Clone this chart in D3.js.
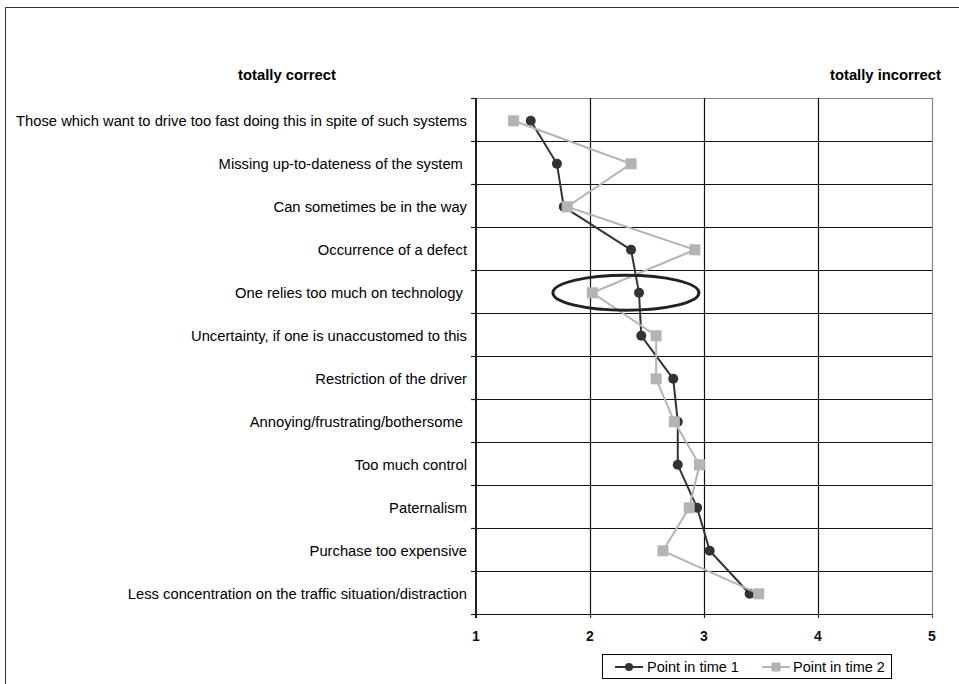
<!DOCTYPE html>
<html>
<head>
<meta charset="utf-8">
<script src="https://cdn.jsdelivr.net/npm/d3@7/dist/d3.min.js"></script>
<style>
  html, body { margin: 0; padding: 0; background: #fff; }
  svg { display: block; font-family: "Liberation Sans", Arial, sans-serif; }
  .cat { white-space: pre; }
</style>
</head>
<body>
<svg id="chart" width="959" height="684"></svg>
<script>
const categories = [
  "Those which want to drive too fast doing this in spite of such systems",
  "Missing up-to-dateness of the system ",
  "Can sometimes be in the way",
  "Occurrence of a defect",
  "One relies too much on technology ",
  "Uncertainty, if one is unaccustomed to this",
  "Restriction of the driver",
  "Annoying/frustrating/bothersome ",
  "Too much control",
  "Paternalism",
  "Purchase too expensive",
  "Less concentration on the traffic situation/distraction"
];
const time1 = [1.48, 1.71, 1.77, 2.36, 2.43, 2.45, 2.73, 2.77, 2.77, 2.94, 3.05, 3.40];
const time2 = [1.33, 2.36, 1.80, 2.92, 2.02, 2.58, 2.58, 2.74, 2.96, 2.87, 2.64, 3.48];
const xTicks = [1, 2, 3, 4, 5];
const seriesNames = ["Point in time 1", "Point in time 2"];
const leftHeader = "totally correct";
const rightHeader = "totally incorrect";

(function () {
const svg = d3.select("#chart");
const pL = 476, pR = 932, pT = 98, pB = 614;

const x = d3.scaleLinear().domain([1, 5]).range([pL, pR]);
const y = d3.scaleBand().domain(categories).range([pT, pB]).padding(0);
const yc = d => y(d) + y.bandwidth() * 0.53;

// outer chart border
svg.append("path")
  .attr("d", "M5.5,684 L5.5,7.5 L959,7.5")
  .attr("fill", "none").attr("stroke", "#333").attr("stroke-width", 1);

// plot frame (top/right gray)
svg.append("path")
  .attr("d", `M${pL},${pT + 0.5} L${pR + 0.5},${pT + 0.5} L${pR + 0.5},${pB}`)
  .attr("fill", "none").attr("stroke", "#888").attr("stroke-width", 1.2);

// horizontal gridlines at band boundaries
const bounds = categories.map(c => y(c)).concat([pB]);
svg.append("g").selectAll("line").data(bounds.slice(1)).join("line")
  .attr("x1", pL).attr("x2", pR)
  .attr("y1", d => d + 0.5).attr("y2", d => d + 0.5)
  .attr("stroke", "#111").attr("stroke-width", 1.2);

// vertical gridlines
svg.append("g").selectAll("line").data(xTicks.slice(1, -1)).join("line")
  .attr("x1", d => x(d) + 0.5).attr("x2", d => x(d) + 0.5)
  .attr("y1", pT).attr("y2", pB)
  .attr("stroke", "#111").attr("stroke-width", 1.2);

// left axis line and ticks
svg.append("line").attr("x1", pL).attr("x2", pL).attr("y1", pT).attr("y2", pB + 4)
  .attr("stroke", "#222").attr("stroke-width", 2);
svg.append("g").selectAll("line").data(bounds).join("line")
  .attr("x1", pL - 5).attr("x2", pL)
  .attr("y1", d => d + 0.5).attr("y2", d => d + 0.5)
  .attr("stroke", "#222").attr("stroke-width", 1.2);

// bottom axis ticks
svg.append("g").selectAll("line").data(xTicks).join("line")
  .attr("x1", d => x(d) + 0.5).attr("x2", d => x(d) + 0.5)
  .attr("y1", pB).attr("y2", pB + 4)
  .attr("stroke", d => d === 5 ? "#555" : "#222").attr("stroke-width", 1.2);

// x tick labels
svg.append("g").selectAll("text").data(xTicks).join("text")
  .attr("x", d => x(d)).attr("y", 641)
  .attr("text-anchor", "middle")
  .attr("font-size", 14).attr("font-weight", "bold").attr("fill", "#111")
  .text(d => d);

// category labels
svg.append("g").selectAll("text").data(categories).join("text")
  .attr("class", "cat")
  .attr("x", 467).attr("y", d => yc(d) + 5.2)
  .attr("text-anchor", "end")
  .attr("font-size", 14.75).attr("fill", "#000")
  .text(d => d);

// headers
svg.append("text").attr("x", 287).attr("y", 80).attr("text-anchor", "middle")
  .attr("font-size", 14.8).attr("font-weight", "bold").text(leftHeader);
svg.append("text").attr("x", 941).attr("y", 80).attr("text-anchor", "end")
  .attr("font-size", 14.8).attr("font-weight", "bold").text(rightHeader);

// series lines
const line = d3.line().x(d => x(d.v)).y(d => yc(d.c));
const s1 = categories.map((c, i) => ({c, v: time1[i]}));
const s2 = categories.map((c, i) => ({c, v: time2[i]}));
const dark = "#333", gray = "#b4b4b4";

svg.append("path").datum(s1).attr("d", line)
  .attr("fill", "none").attr("stroke", dark).attr("stroke-width", 2);
svg.append("g").selectAll("circle").data(s1).join("circle")
  .attr("cx", d => x(d.v)).attr("cy", d => yc(d.c)).attr("r", 5).attr("fill", dark);

svg.append("path").datum(s2).attr("d", line)
  .attr("fill", "none").attr("stroke", gray).attr("stroke-width", 2);
svg.append("g").selectAll("rect").data(s2).join("rect")
  .attr("x", d => x(d.v) - 5.5).attr("y", d => yc(d.c) - 5.5)
  .attr("width", 11).attr("height", 11).attr("fill", gray);

// highlight ellipse around "One relies too much on technology"
const hi = categories[4];
svg.append("ellipse")
  .attr("cx", x((time1[4] + time2[4]) / 2 + 0.09)).attr("cy", yc(hi))
  .attr("rx", 73).attr("ry", 17.5)
  .attr("fill", "none").attr("stroke", "#222").attr("stroke-width", 3);

// legend
const lg = svg.append("g");
lg.append("rect").attr("x", 602.5).attr("y", 654.5).attr("width", 289).attr("height", 24)
  .attr("fill", "#fff").attr("stroke", "#000").attr("stroke-width", 1);
const ly = 667;
lg.append("line").attr("x1", 615).attr("x2", 643).attr("y1", ly).attr("y2", ly)
  .attr("stroke", dark).attr("stroke-width", 2);
lg.append("circle").attr("cx", 629).attr("cy", ly).attr("r", 4).attr("fill", dark);
lg.append("text").attr("x", 647).attr("y", ly + 5).attr("font-size", 14.5).text(seriesNames[0]);
lg.append("line").attr("x1", 762).attr("x2", 790).attr("y1", ly).attr("y2", ly)
  .attr("stroke", gray).attr("stroke-width", 2);
lg.append("rect").attr("x", 771.5).attr("y", ly - 4.5).attr("width", 9).attr("height", 9).attr("fill", gray);
lg.append("text").attr("x", 793).attr("y", ly + 5).attr("font-size", 14.5).text(seriesNames[1]);
})();
</script>
</body>
</html>
